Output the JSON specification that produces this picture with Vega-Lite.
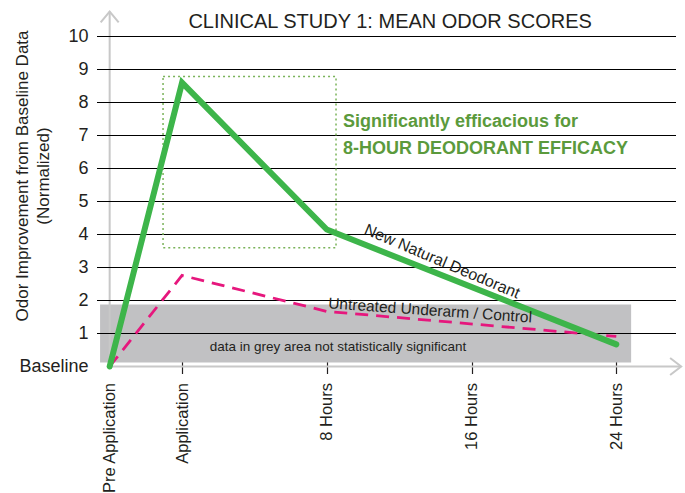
{
  "$schema": "https://vega.github.io/schema/vega-lite/v6.json",
  "width": 579,
  "height": 330,
  "autosize": "none",
  "padding": {"left": 97, "top": 36.5, "right": 9, "bottom": 126.5},
  "background": "white",
  "config": {"view": {"stroke": null}, "axis": {"labelOverlap": false, "labelFlush": false}},
  "datasets": {
    "band": [{"t": -4.53, "t2": 24.82, "v": 0.12, "v2": 1.88}],
    "grid": [{"v": 1}, {"v": 2}, {"v": 3}, {"v": 4}, {"v": 5}, {"v": 6}, {"v": 7}, {"v": 8}, {"v": 9}, {"v": 10}],
    "axes": [{"t": -4, "t2": -4, "v": 0, "v2": 10.76}, {"t": -4, "t2": 27.58, "v": 0, "v2": 0}],
    "arrows": [{"id": "top", "t": -4, "v": 10.59}, {"id": "right", "t": 27.28, "v": 0}],
    "box": [{"t": -1.05, "t2": 8.51, "v": 3.6, "v2": 8.79}],
    "lines": [
      {"series": "New Natural Deodorant", "t": -4, "v": 0},
      {"series": "New Natural Deodorant", "t": 0, "v": 8.6},
      {"series": "New Natural Deodorant", "t": 8, "v": 4.15},
      {"series": "New Natural Deodorant", "t": 24, "v": 0.67},
      {"series": "Untreated Underarm / Control", "t": -4, "v": 0},
      {"series": "Untreated Underarm / Control", "t": 0, "v": 2.76},
      {"series": "Untreated Underarm / Control", "t": 8, "v": 1.67},
      {"series": "Untreated Underarm / Control", "t": 24, "v": 0.91}
    ],
    "notes": [
      {"id": "title", "label": "CLINICAL STUDY 1: MEAN ODOR SCORES", "t": 11.5, "v": 10.45},
      {"id": "sig1", "label": "Significantly efficacious for", "t": 8.9, "v": 7.42},
      {"id": "sig2", "label": "8-HOUR DEODORANT EFFICACY", "t": 8.9, "v": 6.58},
      {"id": "nnd", "label": "New Natural Deodorant", "t": 14.37, "v": 3.18},
      {"id": "ctrl", "label": "Untreated Underarm / Control", "t": 13.71, "v": 1.7},
      {"id": "grey", "label": "data in grey area not statistically significant", "t": 8.62, "v": 0.58}
    ]
  },
  "layer": [
    {
      "data": {"name": "band"},
      "mark": {"type": "rect", "color": "#c1c1c3"},
      "encoding": {
        "x": {"field": "t", "type": "quantitative", "scale": {"domain": [-4.7, 27.3], "nice": false, "zero": false},
          "axis": {"title": null, "values": [-4, 0, 8, 16, 24],
            "labelExpr": "datum.value == -4 ? 'Pre Application' : datum.value == 0 ? 'Application' : datum.value + ' Hours'",
            "labelAngle": -90, "labelAlign": "right", "labelBaseline": "middle", "labelFont": "Liberation Sans", "labelFontSize": 16.5,
            "labelColor": "#231f20", "labelPadding": 9, "labelFlush": false, "labelOverlap": false, "grid": false, "domain": false,
            "offset": -10, "tickSize": 17, "tickWidth": 1.2,
            "tickColor": {"condition": {"test": "datum.value == -4", "value": "transparent"}, "value": "#231f20"}}},
        "x2": {"field": "t2"},
        "y": {"field": "v", "type": "quantitative", "scale": {"domain": [0, 10], "nice": false, "zero": true},
          "axis": {"title": ["Odor Improvement from Baseline Data", "(Normalized)"], "titleFont": "Liberation Sans", "titleFontSize": 17,
            "titleFontWeight": "normal", "titleColor": "#231f20", "titleAngle": -90, "titleX": -83, "titleY": 139, "titleAlign": "center",
            "titleBaseline": "top", "titleLineHeight": 21,
            "values": [0, 1, 2, 3, 4, 5, 6, 7, 8, 9, 10], "tickCount": 11,
            "labelExpr": "datum.value == 0 ? 'Baseline' : datum.label", "labelFont": "Liberation Sans", "labelFontSize": 18,
            "labelColor": "#231f20", "labelPadding": 9, "grid": false, "domain": false, "ticks": false, "labelFlush": false, "labelOverlap": false}},
        "y2": {"field": "v2"}
      }
    },
    {
      "data": {"name": "axes"},
      "mark": {"type": "rule", "color": "#c8c8c8", "strokeWidth": 2},
      "encoding": {
        "x": {"field": "t", "type": "quantitative"},
        "x2": {"field": "t2"},
        "y": {"field": "v", "type": "quantitative"},
        "y2": {"field": "v2"}
      }
    },
    {
      "data": {"name": "arrows"},
      "transform": [{"filter": "datum.id == 'top'"}],
      "mark": {"type": "point", "filled": false, "stroke": "#c8c8c8", "strokeWidth": 2, "size": 324, "shape": "M-1,0.6L0,-0.6L1,0.6", "opacity": 1},
      "encoding": {
        "x": {"field": "t", "type": "quantitative"},
        "y": {"field": "v", "type": "quantitative"}
      }
    },
    {
      "data": {"name": "arrows"},
      "transform": [{"filter": "datum.id == 'right'"}],
      "mark": {"type": "point", "filled": false, "stroke": "#c8c8c8", "strokeWidth": 2, "size": 289, "shape": "M-0.65,-1L0.65,0L-0.65,1", "opacity": 1},
      "encoding": {
        "x": {"field": "t", "type": "quantitative"},
        "y": {"field": "v", "type": "quantitative"}
      }
    },
    {
      "data": {"name": "grid"},
      "mark": {"type": "rule", "color": "#000000", "strokeWidth": 1},
      "encoding": {
        "y": {"field": "v", "type": "quantitative"}
      }
    },
    {
      "data": {"name": "box"},
      "mark": {"type": "rect", "fill": null, "fillOpacity": 0, "stroke": "#7ab35a", "strokeWidth": 1.5, "strokeDash": [2, 3]},
      "encoding": {
        "x": {"field": "t", "type": "quantitative"},
        "x2": {"field": "t2"},
        "y": {"field": "v", "type": "quantitative"},
        "y2": {"field": "v2"}
      }
    },
    {
      "data": {"name": "lines"},
      "transform": [{"filter": "datum.series == 'Untreated Underarm / Control'"}],
      "mark": {"type": "line", "color": "#e6177d", "strokeWidth": 2.8, "strokeDash": [13, 8]},
      "encoding": {
        "x": {"field": "t", "type": "quantitative"},
        "y": {"field": "v", "type": "quantitative"}
      }
    },
    {
      "data": {"name": "lines"},
      "transform": [{"filter": "datum.series == 'New Natural Deodorant'"}],
      "mark": {"type": "line", "color": "#3db54a", "strokeWidth": 6, "strokeCap": "round", "strokeJoin": "miter"},
      "encoding": {
        "x": {"field": "t", "type": "quantitative"},
        "y": {"field": "v", "type": "quantitative"}
      }
    },
    {
      "data": {"name": "notes"},
      "transform": [{"filter": "datum.id == 'title'"}],
      "mark": {"type": "text", "align": "center", "baseline": "middle", "font": "Liberation Sans", "fontSize": 20, "color": "#231f20"},
      "encoding": {
        "x": {"field": "t", "type": "quantitative"},
        "y": {"field": "v", "type": "quantitative"},
        "text": {"field": "label"}
      }
    },
    {
      "data": {"name": "notes"},
      "transform": [{"filter": "datum.id == 'sig1' || datum.id == 'sig2'"}],
      "mark": {"type": "text", "align": "left", "baseline": "middle", "font": "Liberation Sans", "fontWeight": "bold", "fontSize": 18, "color": "#5b9a3c"},
      "encoding": {
        "x": {"field": "t", "type": "quantitative"},
        "y": {"field": "v", "type": "quantitative"},
        "text": {"field": "label"}
      }
    },
    {
      "data": {"name": "notes"},
      "transform": [{"filter": "datum.id == 'nnd'"}],
      "mark": {"type": "text", "align": "center", "baseline": "middle", "font": "Liberation Sans", "fontSize": 16, "angle": 23, "color": "#231f20"},
      "encoding": {
        "x": {"field": "t", "type": "quantitative"},
        "y": {"field": "v", "type": "quantitative"},
        "text": {"field": "label"}
      }
    },
    {
      "data": {"name": "notes"},
      "transform": [{"filter": "datum.id == 'ctrl'"}],
      "mark": {"type": "text", "align": "center", "baseline": "middle", "font": "Liberation Sans", "fontSize": 15.5, "angle": 4, "color": "#231f20"},
      "encoding": {
        "x": {"field": "t", "type": "quantitative"},
        "y": {"field": "v", "type": "quantitative"},
        "text": {"field": "label"}
      }
    },
    {
      "data": {"name": "notes"},
      "transform": [{"filter": "datum.id == 'grey'"}],
      "mark": {"type": "text", "align": "center", "baseline": "middle", "font": "Liberation Sans", "fontSize": 13.5, "color": "#231f20"},
      "encoding": {
        "x": {"field": "t", "type": "quantitative"},
        "y": {"field": "v", "type": "quantitative"},
        "text": {"field": "label"}
      }
    }
  ]
}
